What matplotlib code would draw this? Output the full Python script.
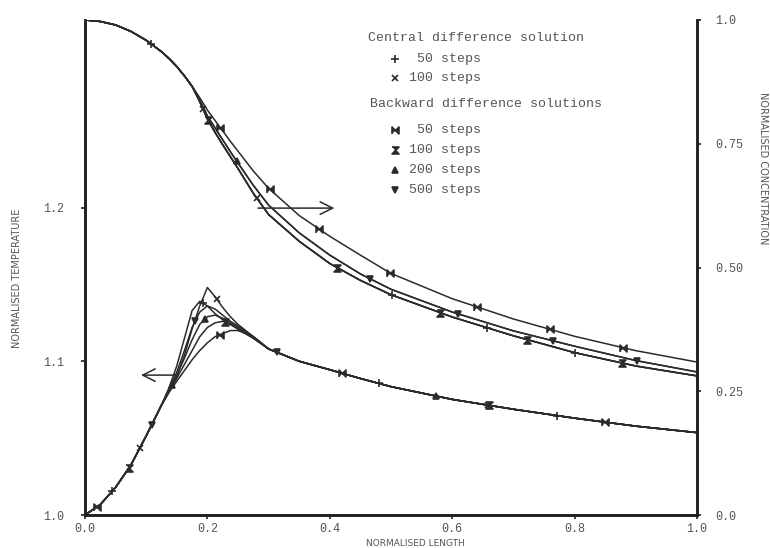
import numpy as np
import matplotlib
matplotlib.use("Agg")
from matplotlib import pyplot as plt

# normalised length grid shared by every series
x_grid = [0.0, 0.025, 0.05, 0.075, 0.1, 0.125, 0.1375, 0.15, 0.1625, 0.175,
          0.1875, 0.2, 0.2125, 0.225, 0.2375, 0.25, 0.275, 0.3, 0.35, 0.4,
          0.45, 0.5, 0.6, 0.7, 0.8, 0.9, 1.0]

# normalised temperature
temp_c50 = [1.000, 1.0068, 1.018, 1.0325, 1.0515, 1.0715, 1.083, 1.097, 1.115, 1.133,
            1.139, 1.136, 1.131, 1.127, 1.124, 1.121, 1.115, 1.108, 1.100, 1.0945,
            1.0888, 1.0835, 1.0752, 1.0688, 1.063, 1.0578, 1.0536]
temp_c100 = [1.000, 1.0068, 1.018, 1.0325, 1.0515, 1.0715, 1.081, 1.090, 1.104, 1.121,
             1.136, 1.148, 1.142, 1.135, 1.129, 1.124, 1.116, 1.108, 1.100, 1.0945,
             1.0888, 1.0835, 1.0752, 1.0688, 1.063, 1.0578, 1.0536]
temp_b50 = [1.000, 1.0068, 1.018, 1.0325, 1.0515, 1.0715, 1.080, 1.087, 1.094, 1.101,
            1.107, 1.112, 1.116, 1.118, 1.120, 1.120, 1.116, 1.108, 1.100, 1.0945,
            1.0888, 1.0835, 1.0752, 1.0688, 1.063, 1.0578, 1.0536]
temp_b100 = [1.000, 1.0068, 1.018, 1.0325, 1.0515, 1.0715, 1.080, 1.089, 1.098, 1.107,
             1.116, 1.122, 1.125, 1.126, 1.124, 1.121, 1.115, 1.108, 1.100, 1.0945,
             1.0888, 1.0835, 1.0752, 1.0688, 1.063, 1.0578, 1.0536]
temp_b200 = [1.000, 1.0068, 1.018, 1.0325, 1.0515, 1.0715, 1.081, 1.091, 1.102, 1.114,
             1.124, 1.129, 1.130, 1.128, 1.125, 1.122, 1.116, 1.108, 1.100, 1.0945,
             1.0888, 1.0835, 1.0752, 1.0688, 1.063, 1.0578, 1.0536]
temp_b500 = [1.000, 1.0068, 1.018, 1.0325, 1.0515, 1.0715, 1.082, 1.093, 1.107, 1.122,
             1.132, 1.136, 1.134, 1.130, 1.126, 1.123, 1.116, 1.108, 1.100, 1.0945,
             1.0888, 1.0835, 1.0752, 1.0688, 1.063, 1.0578, 1.0536]

# normalised concentration
conc_top = [1.000, 0.997, 0.990, 0.977, 0.959, 0.936, 0.922, 0.906, 0.887, 0.866,
            0.843, 0.818, 0.797, 0.776, 0.755, 0.735, 0.695, 0.660, 0.605, 0.563,
            0.525, 0.488, 0.437, 0.396, 0.361, 0.332, 0.309]
conc_mid = [1.000, 0.997, 0.990, 0.977, 0.959, 0.936, 0.922, 0.906, 0.887, 0.866,
            0.838, 0.806, 0.782, 0.758, 0.734, 0.711, 0.666, 0.626, 0.570, 0.525,
            0.487, 0.456, 0.410, 0.372, 0.341, 0.312, 0.289]
conc_low = [1.000, 0.997, 0.990, 0.977, 0.959, 0.936, 0.922, 0.906, 0.887, 0.866,
            0.835, 0.800, 0.773, 0.748, 0.724, 0.700, 0.650, 0.607, 0.553, 0.508,
            0.474, 0.445, 0.400, 0.362, 0.328, 0.301, 0.281]
conc_b50 = conc_top
conc_b500 = conc_mid
conc_b200 = conc_mid
conc_b100 = conc_low
conc_c50 = conc_low
conc_c100 = conc_low

# where the symbols sit along each curve
temp_marks = {
    "c50": [0.044, 0.193, 0.48, 0.771],
    "c100": [0.09, 0.215, 0.658],
    "b50": [0.02, 0.221, 0.42, 0.85],
    "b100": [0.072, 0.229, 0.66],
    "b200": [0.142, 0.196, 0.574],
    "b500": [0.109, 0.18, 0.314],
}
conc_marks = {
    "c50": [0.108, 0.502, 0.657, 0.801],
    "c100": [0.193, 0.281],
    "b50": [0.221, 0.302, 0.382, 0.498, 0.641, 0.76, 0.879],
    "b100": [0.201, 0.412, 0.58, 0.722, 0.877],
    "b200": [0.248],
    "b500": [0.466, 0.609, 0.765, 0.902],
}

bowtie = [(-1, -1), (-1, 1), (0, 0), (1, 1), (1, -1), (0, 0)]
hourglass = [(-1, 1), (1, 1), (0, 0), (1, -1), (-1, -1), (0, 0)]

series = {
    "c50": (temp_c50, conc_c50, "+", 6),
    "c100": (temp_c100, conc_c100, "x", 4.5),
    "b50": (temp_b50, conc_b50, bowtie, 5),
    "b100": (temp_b100, conc_b100, hourglass, 5),
    "b200": (temp_b200, conc_b200, "^", 4.5),
    "b500": (temp_b500, conc_b500, "v", 4.5),
}

ink = "#2b2b2b"
grey = "#555555"
mono = "Liberation Mono"

fig = plt.figure(figsize=(7.7, 5.48), dpi=100)
ax = fig.add_axes([85 / 770, 1 - 515 / 548, 612 / 770, 495 / 548])
ax2 = ax.twinx()

for key, (temp, conc, mk, ms) in series.items():
    ax.plot(x_grid, temp, color=ink, lw=1.1)
    ax2.plot(x_grid, conc, color=ink, lw=1.1)
    tx = temp_marks[key]
    ax.plot(tx, np.interp(tx, x_grid, temp), ls="none", marker=mk, ms=ms,
            color=ink, mew=1.2)
    cx = conc_marks[key]
    ax2.plot(cx, np.interp(cx, x_grid, conc), ls="none", marker=mk, ms=ms,
             color=ink, mew=1.2)

ax.set_xlim(0, 1)
ax.set_ylim(1.0, 1.322)
ax2.set_ylim(0, 1)

ax.set_xticks([0.0, 0.2, 0.4, 0.6, 0.8, 1.0])
ax.set_xticklabels(["0.0", "0.2", "0.4", "0.6", "0.8", "1.0"])
ax.set_yticks([1.0, 1.1, 1.2])
ax.set_yticklabels(["1.0", "1.1", "1.2"])
ax2.set_yticks([0.0, 0.25, 0.5, 0.75, 1.0])
ax2.set_yticklabels(["0.0", "0.25", "0.50", "0.75", "1.0"])

for a in (ax, ax2):
    a.spines["top"].set_visible(False)
    for s in ("left", "right", "bottom"):
        a.spines[s].set_linewidth(1.8)
        a.spines[s].set_color("#1e1e1e")
    a.tick_params(direction="out", length=3, width=1.2, color="#1e1e1e",
                  labelcolor=grey, labelsize=8.5)
    for lab in a.get_xticklabels() + a.get_yticklabels():
        lab.set_family(mono)
ax.tick_params(axis="x", pad=3)
ax.tick_params(axis="y", pad=12)
ax2.tick_params(axis="y", pad=10)

fig.text(415 / 770, 1 - 544 / 548, "NORMALISED LENGTH", ha="center", va="center",
         fontsize=6.5, color=grey)
fig.text(17 / 770, 1 - 278 / 548, "NORMALISED TEMPERATURE", ha="center",
         va="center", rotation=90, fontsize=7, color=grey)
fig.text(763 / 770, 1 - 168 / 548, "NORMALISED CONCENTRATION", ha="center",
         va="center", rotation=-90, fontsize=7, color=grey)

# arrows showing which axis each family of curves belongs to
ax2.annotate("", xy=(0.412, 0.62), xytext=(0.278, 0.62),
             arrowprops=dict(arrowstyle="->,head_length=0.9,head_width=0.45",
                             color=ink, lw=1.1))
ax.annotate("", xy=(0.087, 1.091), xytext=(0.152, 1.091),
            arrowprops=dict(arrowstyle="->,head_length=0.9,head_width=0.45",
                            color=ink, lw=1.1))

# key
tc = ax.transAxes
ax.text(0.462, 0.964, "Central difference solution", transform=tc,
        family=mono, fontsize=9.5, color=grey, va="center")
ax.text(0.466, 0.830, "Backward difference solutions", transform=tc,
        family=mono, fontsize=9.5, color=grey, va="center")
key_rows = [
    ("c50", 0.921, " 50 steps"),
    ("c100", 0.883, "100 steps"),
    ("b50", 0.778, " 50 steps"),
    ("b100", 0.737, "100 steps"),
    ("b200", 0.697, "200 steps"),
    ("b500", 0.657, "500 steps"),
]
for key, yk, label in key_rows:
    mk, ms = series[key][2], series[key][3]
    ax.plot([0.507], [yk], transform=tc, ls="none", marker=mk, ms=ms,
            color=ink, mew=1.2, clip_on=False)
    ax.text(0.529, yk, label, transform=tc, family=mono, fontsize=9.5,
            color=grey, va="center")

fig.savefig("out.png", dpi=100, facecolor="white")
